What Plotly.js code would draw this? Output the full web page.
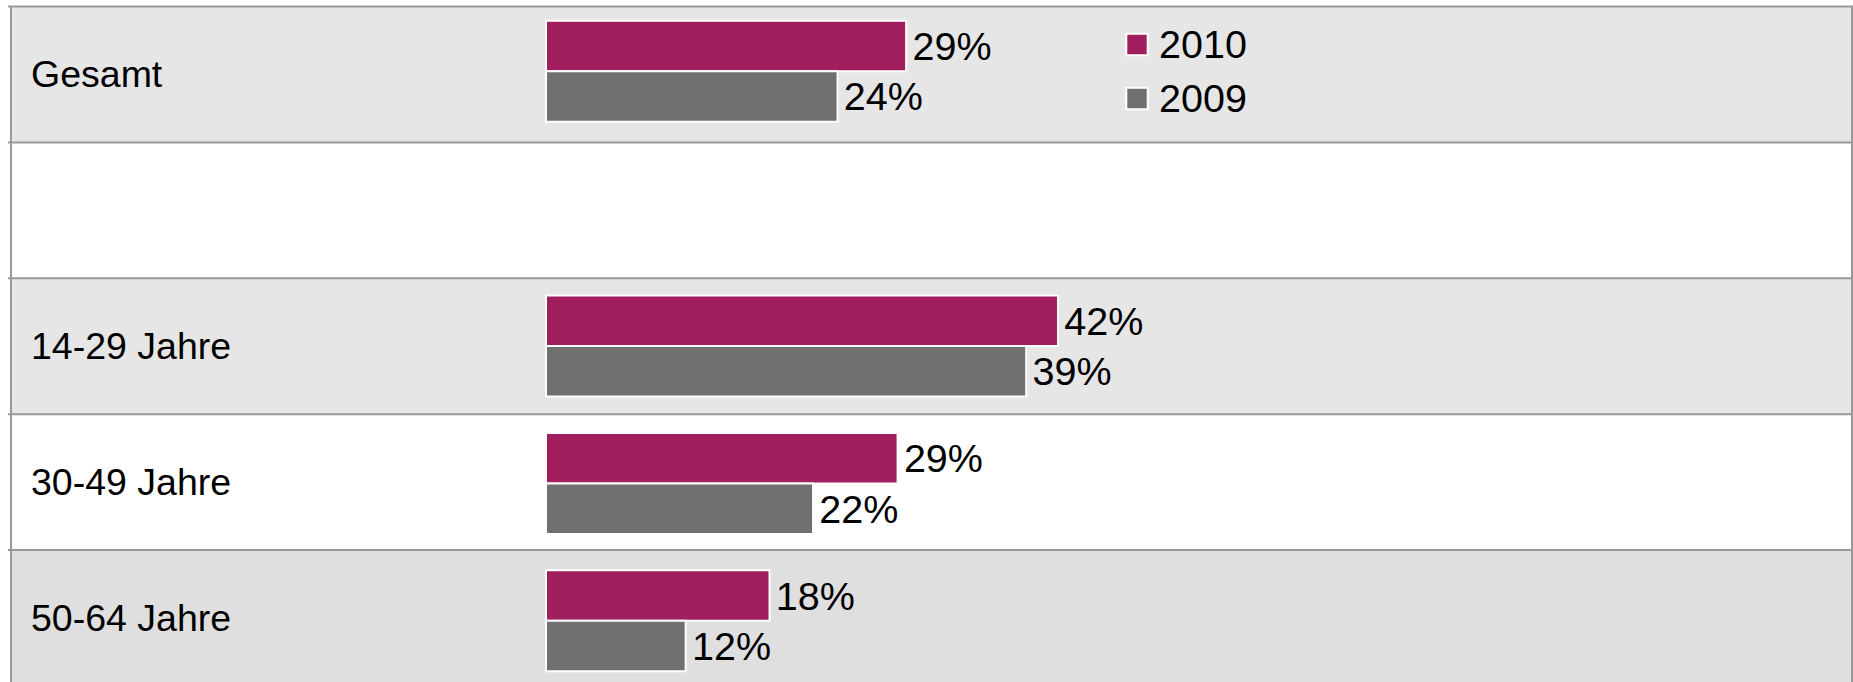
<!DOCTYPE html>
<html><head><meta charset="utf-8">
<script src="https://cdn.plot.ly/plotly-3.0.1.min.js"></script>
<style>html,body{margin:0;padding:0;background:#fff;overflow:hidden}#chart{width:1853px;height:682px}</style>
</head><body><div id="chart"></div>
<script>
// ---- data ----
const categories = ["Gesamt", "14-29 Jahre", "30-49 Jahre", "50-64 Jahre"];
const rowOrder = ["Gesamt", " ", "14-29 Jahre", "30-49 Jahre", "50-64 Jahre"];
const seriesNames = ["2010", "2009"];
// values
const values2010 = [29.4, 41.8, 28.7, 18.25];
const values2009 = [23.8, 39.2, 21.8, 11.4];
// printed value labels
const labels2010 = [29, 42, 29, 18];
const labels2009 = [24, 39, 22, 12];

// ---- styles ----
const FONT = "Arial, 'Liberation Sans', sans-serif";
const colors = ["#a11f5e", "#707070"];
const rowFills = ["#e6e6e6", "#ffffff", "#e6e6e6", "#ffffff", "#dfdfdf"];
const W = 1853, H = 682;
const pxPerUnit = 12.25, zeroPx = 546;
// bar grid
const barRowPx = 137.4, barRow0Center = 71.2;
const yTop = -barRow0Center / barRowPx;
const yBottom = (H - barRow0Center) / barRowPx;
// band grid (pixels)
const bandPx = 135.9, bandTop = 6.5;
const py = px => 1 - px / H;

const series = [values2010, values2009];
const seriesLabels = [labels2010, labels2009];
const traces = [];
series.forEach((vals, i) => {
  traces.push({
    type: "bar", orientation: "h", name: seriesNames[i],
    x: vals, y: categories,
    text: seriesLabels[i].map(v => "\u200A" + v + "%"),
    texttemplate: "%{text}",
    marker: {color: colors[i], line: {color: "#ffffff", width: 2}},
    textposition: "outside", cliponaxis: false, constraintext: "none",
    textfont: {family: FONT, size: 39.5, color: "#000"},
    outsidetextfont: {family: FONT, size: 39.5, color: "#000"},
    showlegend: false, hoverinfo: "skip"
  });
});

const shapes = [];
rowOrder.forEach((c, i) => {
  const top = bandTop + i * bandPx;
  shapes.push({type: "rect", layer: "below", xref: "paper", yref: "paper",
    x0: 10 / W, x1: 1852 / W, y0: py(top), y1: py(top + bandPx),
    fillcolor: rowFills[i], line: {width: 0}});
  shapes.push({type: "line", layer: "below", xref: "paper", yref: "paper",
    x0: 8 / W, x1: 1, y0: py(top), y1: py(top),
    line: {color: "#999999", width: 2}});
});
[11 / W, 1852 / W].forEach(xv => {
  shapes.push({type: "line", layer: "below", xref: "paper", yref: "paper",
    x0: xv, x1: xv, y0: py(bandTop), y1: 0,
    line: {color: "#999999", width: 2}});
});

// legend (swatches + names)
const legendRowY = [44.5, 98.5];
seriesNames.forEach((n, i) => {
  const cy = legendRowY[i];
  shapes.push({type: "rect", layer: "above", xref: "paper", yref: "paper",
    x0: 1126.3 / W, x1: 1147.7 / W, y0: py(cy - 10.7), y1: py(cy + 10.7),
    fillcolor: colors[i], line: {color: "#ffffff", width: 2}});
});

const annotations = categories.map(c => ({
  xref: "paper", yref: "paper", x: 29 / W,
  y: py(bandTop + (rowOrder.indexOf(c) + 0.5) * bandPx),
  xanchor: "left", yanchor: "middle",
  text: c, showarrow: false, font: {family: FONT, size: 37.5, color: "#000"}
}));
seriesNames.forEach((n, i) => {
  annotations.push({xref: "paper", yref: "paper", x: 1157 / W, y: py(legendRowY[i]),
    xanchor: "left", yanchor: "middle", text: n, showarrow: false,
    font: {family: FONT, size: 39.5, color: "#000"}});
});

const layout = {
  width: W, height: H,
  margin: {l: 0, r: 0, t: 0, b: 0, pad: 0},
  paper_bgcolor: "#ffffff", plot_bgcolor: "rgba(0,0,0,0)",
  barmode: "group", bargap: 0.265, bargroupgap: 0,
  font: {family: FONT, color: "#000"},
  showlegend: false,
  xaxis: {range: [-zeroPx / pxPerUnit, (W - zeroPx) / pxPerUnit], showgrid: false,
          zeroline: false, showticklabels: false, ticks: "", showline: false, fixedrange: true},
  yaxis: {type: "category", categoryorder: "array", categoryarray: rowOrder,
          range: [yBottom, yTop], showgrid: false, zeroline: false,
          showticklabels: false, ticks: "", showline: false, fixedrange: true},
  shapes: shapes, annotations: annotations
};

Plotly.newPlot("chart", traces, layout, {displayModeBar: false, staticPlot: true});
</script></body></html>
